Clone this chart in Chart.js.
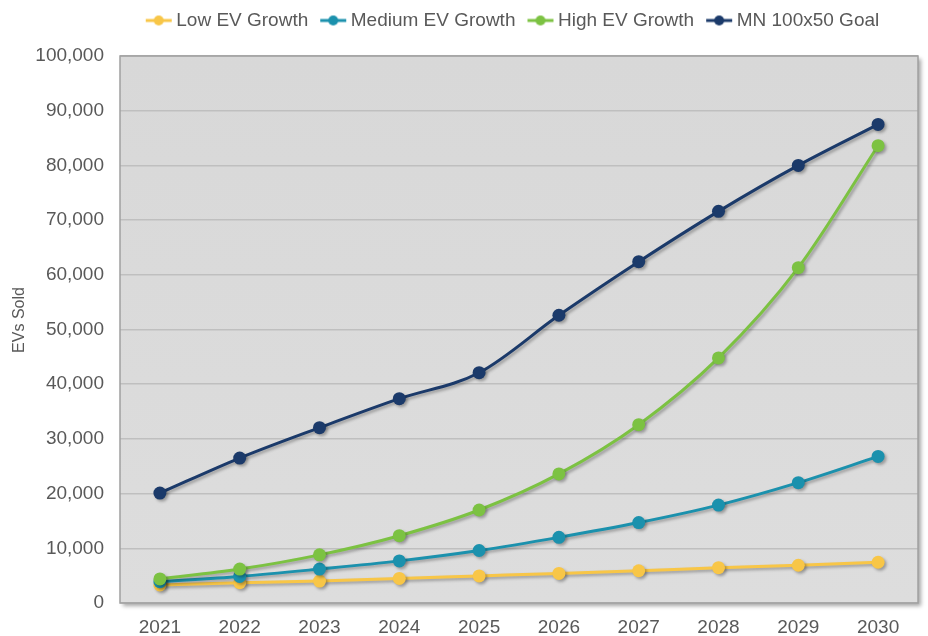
<!DOCTYPE html>
<html>
<head>
<meta charset="utf-8">
<script src="https://cdn.jsdelivr.net/npm/chart.js@4/dist/chart.umd.min.js"></script>
<style>
  html, body { margin: 0; padding: 0; background: #ffffff; }
  #wrap { width: 928px; height: 636px; }
</style>
</head>
<body>
<div id="wrap"><canvas id="evChart" width="928" height="636"></canvas></div>
<script>
var years = ['2021', '2022', '2023', '2024', '2025', '2026', '2027', '2028', '2029', '2030'];
var lowGrowth = [3300, 3700, 4000, 4500, 4950, 5400, 5900, 6450, 6900, 7450];
var mediumGrowth = [3900, 4850, 6200, 7700, 9600, 12000, 14700, 17900, 22000, 26800];
var highGrowth = [4400, 6200, 8800, 12300, 17000, 23600, 32600, 44800, 61300, 83600];
var mnGoal = [20100, 26500, 32050, 37350, 42100, 52600, 62400, 71600, 80000, 87500];
var yTicks = [0, 10000, 20000, 30000, 40000, 50000, 60000, 70000, 80000, 90000, 100000];
var yTitle = 'EVs Sold';

var colors = {
    low: '#f8c647',
    medium: '#1b91ad',
    high: '#7cc242',
    goal: '#1b3a6a'
};

var textColor = '#595959';
var fontFamily = '"Liberation Sans", Arial, sans-serif';

window.addEventListener("load", function() {
    init();
});

function init() {
    renderChart();
}

// line-with-dot marker for the legend; drawn in the right part of a wider
// transparent canvas so the text sits close to it
function legendMarker(color) {
    var c = document.createElement('canvas');
    c.width = 54;
    c.height = 12;
    var g = c.getContext('2d');
    g.strokeStyle = color;
    g.lineWidth = 3;
    g.beginPath();
    g.moveTo(17, 6);
    g.lineTo(43, 6);
    g.stroke();
    g.fillStyle = color;
    g.beginPath();
    g.arc(30, 6, 5, 0, Math.PI * 2);
    g.fill();
    return c;
}

var plotBackground = {
    id: 'plotBackground',
    beforeInit: function(chart) {
        // leave room between legend and plot
        var fit = chart.legend.fit;
        chart.legend.fit = function() {
            fit.call(this);
            this.height += 16;
        };
    },
    afterLayout: function(chart) {
        // legend sits a little left of the plot centre
        chart.legend.left -= 7;
        chart.legend.right -= 7;
    },
    beforeDraw: function(chart) {
        var a = chart.chartArea;
        var ctx = chart.ctx;
        ctx.save();
        ctx.shadowColor = 'rgba(0,0,0,0.35)';
        ctx.shadowOffsetX = 3;
        ctx.shadowOffsetY = 3;
        ctx.shadowBlur = 4;
        var grad = ctx.createLinearGradient(0, a.top, 0, a.bottom);
        grad.addColorStop(0, '#d8d8d8');
        grad.addColorStop(1, '#dddddd');
        ctx.fillStyle = grad;
        ctx.fillRect(a.left, a.top, a.right - a.left, a.bottom - a.top);
        ctx.restore();
    },
    afterDraw: function(chart) {
        var a = chart.chartArea;
        var ctx = chart.ctx;
        ctx.save();
        ctx.strokeStyle = '#a0a0a0';
        ctx.lineWidth = 1.5;
        ctx.strokeRect(a.left, a.top, a.right - a.left, a.bottom - a.top);
        // y axis title
        ctx.translate(20, 320);
        ctx.rotate(-Math.PI / 2);
        ctx.fillStyle = textColor;
        ctx.font = '16px ' + fontFamily;
        ctx.textAlign = 'center';
        ctx.textBaseline = 'middle';
        ctx.fillText(yTitle, 0, 0);
        ctx.restore();
    },
    beforeDatasetsDraw: function(chart) {
        var ctx = chart.ctx;
        ctx.save();
        ctx.shadowColor = 'rgba(0,0,0,0.3)';
        ctx.shadowOffsetX = 2;
        ctx.shadowOffsetY = 2;
        ctx.shadowBlur = 3;
    },
    afterDatasetsDraw: function(chart) {
        chart.ctx.restore();
    }
};

function makeSeries(label, data, color, order) {
    return {
        label: label,
        data: data,
        borderColor: color,
        backgroundColor: color,
        pointBackgroundColor: color,
        pointBorderColor: color,
        pointBorderWidth: 0,
        borderWidth: 3,
        pointRadius: 6.5,
        pointHoverRadius: 6.5,
        cubicInterpolationMode: 'monotone',
        fill: false,
        order: order
    };
}

function renderChart() {
    var ctx = document.getElementById('evChart').getContext('2d');
    var chart = new Chart(ctx, {
        type: 'line',
        data: {
            labels: years,
            datasets: [
                makeSeries('Low EV Growth', lowGrowth, colors.low, 4),
                makeSeries('Medium EV Growth', mediumGrowth, colors.medium, 3),
                makeSeries('High EV Growth', highGrowth, colors.high, 2),
                makeSeries('MN 100x50 Goal', mnGoal, colors.goal, 1)
            ]
        },
        options: {
            responsive: false,
            animation: false,
            layout: {
                padding: { left: 0, right: 10, top: 0, bottom: 0 }
            },
            plugins: {
                tooltip: { enabled: false },
                legend: {
                    position: 'top',
                    fullSize: false,
                    labels: {
                        color: textColor,
                        font: { family: fontFamily, size: 19 },
                        usePointStyle: true,
                        pointStyleWidth: 22,
                        boxHeight: 12,
                        padding: 11,
                        generateLabels: function(chart) {
                            return chart.data.datasets.map(function(ds, i) {
                                return {
                                    text: ds.label,
                                    fontColor: textColor,
                                    pointStyle: legendMarker(ds.borderColor),
                                    datasetIndex: i,
                                    lineWidth: 0,
                                    hidden: false
                                };
                            });
                        }
                    }
                }
            },
            scales: {
                x: {
                    offset: true,
                    grid: { display: false, drawTicks: false },
                    border: { display: false },
                    ticks: {
                        color: textColor,
                        font: { family: fontFamily, size: 19 },
                        padding: 13
                    },
                    afterFit: function(axis) {
                        axis.height = 33;
                    }
                },
                y: {
                    min: 0,
                    max: 100000,
                    afterBuildTicks: function(axis) {
                        axis.ticks = yTicks.map(function(v) { return { value: v }; });
                    },
                    afterFit: function(axis) {
                        axis.width = 120;
                    },
                    grid: {
                        color: '#bfbfbf',
                        lineWidth: 1.5,
                        drawTicks: false
                    },
                    border: { display: false },
                    ticks: {
                        color: textColor,
                        font: { family: fontFamily, size: 19 },
                        padding: 16,
                        callback: function(v) { return v.toLocaleString('en-US'); }
                    }
                }
            }
        },
        plugins: [plotBackground]
    });
}
</script>
</body>
</html>
